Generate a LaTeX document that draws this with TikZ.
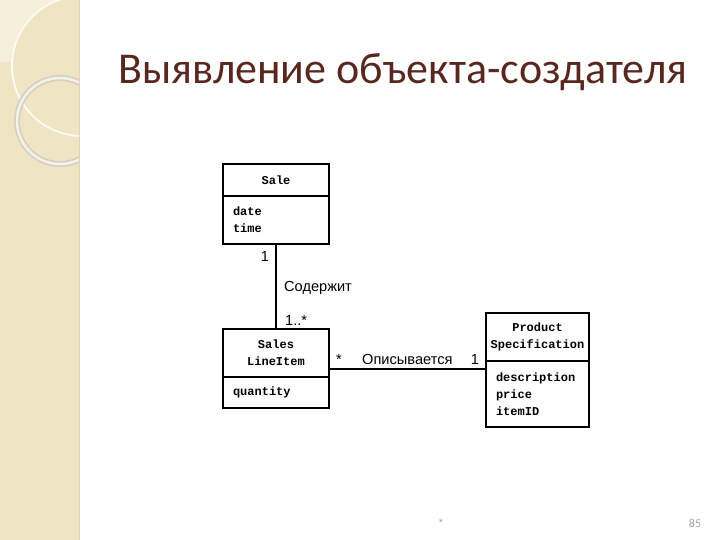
\documentclass[tikz,border=0pt]{standalone}
\usepackage{fontspec}
\setmainfont{Liberation Sans}
\newfontfamily\titlefont{Carlito}
\newfontfamily\umlfont{Liberation Mono}
\usetikzlibrary{positioning}
\definecolor{stripbg}{RGB}{239,228,196}
\definecolor{striplight}{RGB}{246,239,218}
\definecolor{stripedge}{RGB}{226,214,180}
\definecolor{ringgray}{RGB}{214,208,190}
\definecolor{titlebrown}{RGB}{88,40,30}
\definecolor{footgray}{RGB}{165,165,165}
\newcommand{\umltext}{\umlfont\bfseries\fontsize{12}{17}\selectfont}
\tikzset{hdr/.style={draw, line width=1.3pt, outer sep=0pt, inner xsep=2pt, inner ysep=0pt, minimum width=#1, align=center, font=\umltext},
    attr/.style={draw, line width=1.3pt, outer sep=0pt, inner xsep=10pt, inner ysep=0pt, text width=#1, align=left, font=\umltext},
    assoc/.style={line width=1.3pt},
    lbl/.style={inner sep=0pt, font=\fontsize{14.6}{16}\selectfont}}

\begin{document}
\begin{tikzpicture}[x=1pt, y=-1pt]
            \useasboundingbox (0,0) rectangle (720,540);
            % background strip
            \fill[stripbg] (0,0) rectangle (79,540);
            \begin{scope}
                \clip (0,0) rectangle (63,62);
                \fill[striplight, even odd rule] (0,0) rectangle (63,62) (82,66) circle (70pt);
            \end{scope}
            \begin{scope}
                \clip (0,0) rectangle (79,540);
                \draw[white!85!stripbg, line width=1.8pt] (82,66) circle (70pt);
                \draw[ringgray, line width=6pt] (60,121) circle (43pt);
                \draw[white!70!ringgray, line width=2.5pt] (60,121) circle (43pt);
            \end{scope}
            \draw[stripedge, line width=1pt] (79,0)--(79,540);
            % title
            \node[anchor=base west, inner sep=0pt, text=titlebrown, font=\titlefont\fontsize{44}{48}\selectfont] (title) at (118,84) {Выявление объекта-создателя};
            % classes
            \node[hdr=106pt, minimum height=32pt, anchor=north west] (sale) at (223,164) {Sale};
            \node[attr=86pt, minimum height=48pt, below=0pt of sale] (saleattr) {date\\time};
            \node[hdr=106pt, minimum height=48pt, anchor=north west] (item) at (223,329) {Sales\\LineItem};
            \node[attr=86pt, minimum height=31pt, below=0pt of item] (itemattr) {quantity};
            \node[hdr=103pt, minimum height=48pt, anchor=north west] (prod) at (486,313) {Product\\Specification};
            \node[attr=83pt, minimum height=66pt, below=0pt of prod] (prodattr) {description\\price\\itemID};
            % associations
            \draw[assoc] (saleattr)--(item);
            \coordinate (descl) at ([yshift=8pt]item.south east);
            \draw[assoc] (descl)--(descl -| prodattr.west);
            \node[lbl] (containone) at (265,256) {1};
            \node[lbl, anchor=west] (contains) at (284,288) {Содержит};
            \node[lbl, anchor=west] (containmany) at (285,320) {1..*};
            \node[lbl, anchor=base] (descmany) at (339,364) {*};
            \node[lbl, anchor=base west] (describes) at (362,364) {Описывается};
            \node[lbl, anchor=base] (descone) at (475,364) {1};
            % footer
            \node[text=footgray, font=\fontsize{11}{12}\selectfont] (star) at (441,523) {*};
            \node[text=footgray, font=\titlefont\fontsize{12}{13}\selectfont] (page) at (695,523) {85};
        \end{tikzpicture}
\end{document}
